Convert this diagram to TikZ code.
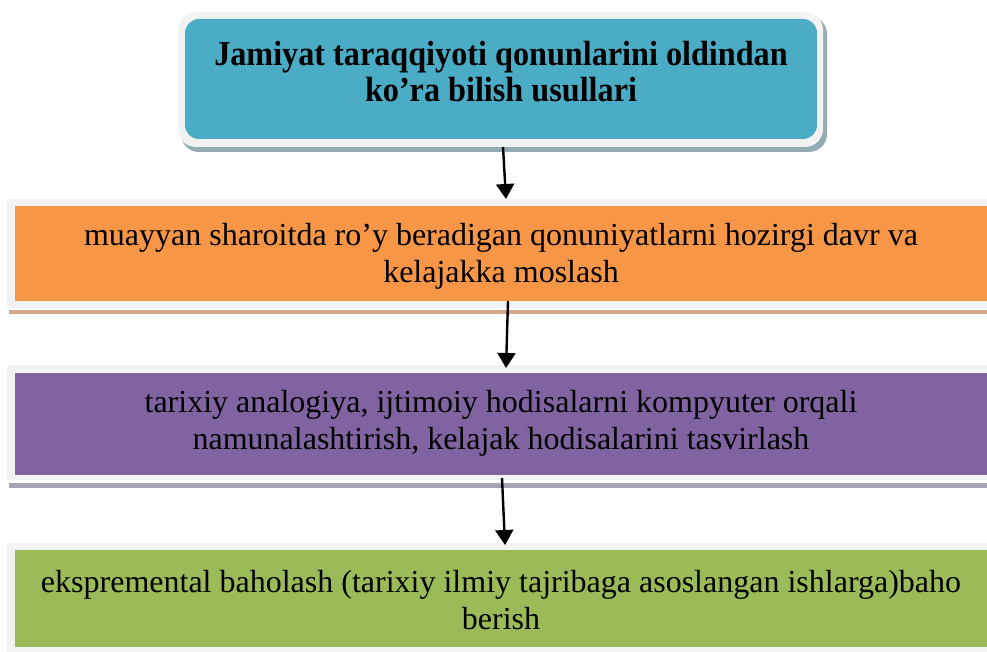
\documentclass[tikz,border=0pt]{standalone}
\usepackage{fontspec}
\setmainfont{Liberation Serif}
\newfontfamily\titlefont[FakeStretch=0.92]{Liberation Serif}
\usetikzlibrary{arrows.meta,calc}
\definecolor{frameg}{HTML}{F2F2F2}
\definecolor{tealc}{HTML}{4BACC6}
\definecolor{tealsh}{HTML}{93ABB3}
\definecolor{orangec}{HTML}{F79646}
\definecolor{orangesh}{HTML}{D4A98A}
\definecolor{purplec}{HTML}{8064A2}
\definecolor{purplesh}{HTML}{A5A3B5}
\definecolor{greenc}{HTML}{9BBB59}
\tikzset{
  box/.style={inner sep=0pt, outer sep=0pt},
  bodytext/.style={align=center, inner sep=0pt, font=\fontsize{32}{37}\selectfont},
  titletext/.style={align=center, inner sep=0pt, font=\titlefont\bfseries\fontsize{35}{36}\selectfont},
  arr/.style={line width=2.4pt, -{Triangle[width=18pt,length=15pt]}}
}
\begin{document}
\begin{tikzpicture}[x=1pt,y=-1pt]
\useasboundingbox (0,0) rectangle (987,652);
% top box
\fill[tealsh, rounded corners=18pt] (181,16) rectangle (827,152);
\node[box, fill=frameg, rounded corners=18pt, minimum width=645pt, minimum height=135pt] (topframe) at (500.5,79.5) {};
\node[box, fill=tealc, rounded corners=14pt, minimum width=632pt, minimum height=120pt] (topbox) at (501,79) {};
\node[titletext] (toptext) at (501,72) {Jamiyat taraqqiyoti qonunlarini oldindan\\ko’ra bilish usullari};
% orange
\fill[orangesh] (9,310) rectangle (1000,314);
\node[box, fill=frameg, minimum width=993pt, minimum height=109pt] (oframe) at (503.5,253.5) {};
\node[box, fill=orangec, minimum width=985pt, minimum height=95pt] (obox) at (507.5,253.5) {};
\node[bodytext] (otext) at (501,256) {muayyan sharoitda ro’y beradigan qonuniyatlarni hozirgi davr va\\kelajakka moslash};
% purple
\fill[purplesh] (9,483) rectangle (1000,488);
\node[box, fill=frameg, minimum width=993pt, minimum height=115pt] (pframe) at (503.5,422.5) {};
\node[box, fill=purplec, minimum width=985pt, minimum height=102pt] (pbox) at (507.5,424) {};
\node[bodytext] (ptext) at (501,423) {tarixiy analogiya, ijtimoiy hodisalarni kompyuter orqali\\namunalashtirish, kelajak hodisalarini tasvirlash};
% green
\node[box, fill=frameg, minimum width=993pt, minimum height=112pt] (gframe) at (503.5,599) {};
\node[box, fill=greenc, minimum width=985pt, minimum height=97pt] (gbox) at (507.5,598.5) {};
\node[bodytext] (gtext) at (501,600) {ekspremental baholash (tarixiy ilmiy tajribaga asoslangan ishlarga)baho\\berish};
% arrows
\draw[arr] ([xshift=2.5pt]topframe.south) -- ([xshift=2.5pt]oframe.north);
\draw[arr] ([xshift=0.5pt]obox.south) -- ([xshift=2.5pt,yshift=-3pt]pframe.north);
\draw[arr] ([xshift=-1.5pt,yshift=2pt]pframe.south) -- ([xshift=1.5pt,yshift=-2pt]gframe.north);
\end{tikzpicture}
\end{document}
